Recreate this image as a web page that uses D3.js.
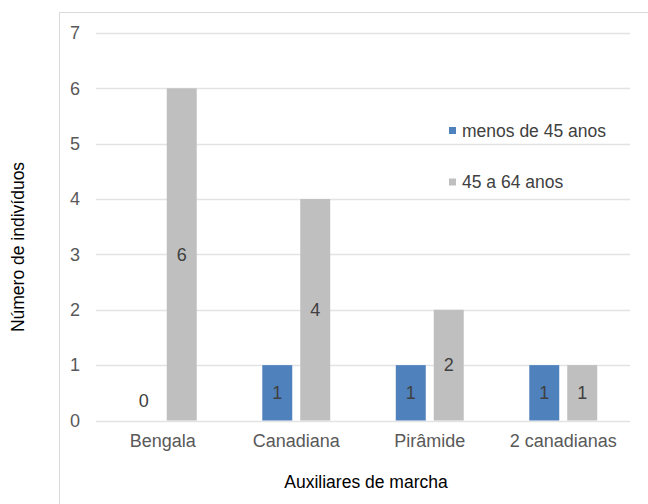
<!DOCTYPE html>
<html>
<head>
<meta charset="utf-8">
<script src="https://cdn.jsdelivr.net/npm/d3@7/dist/d3.min.js"></script>
<style>
  html, body { margin: 0; padding: 0; background: #fff; }
  svg { display: block; font-family: "Liberation Sans", Arial, sans-serif; }
</style>
</head>
<body>
<svg id="chart" width="648" height="504"></svg>
<script>
// Walking aids by age group
const categories = ["Bengala", "Canadiana", "Pirâmide", "2 canadianas"];
const seriesNames = ["menos de 45 anos", "45 a 64 anos"];
const under45 = [0, 1, 1, 1];
const age45to64 = [6, 4, 2, 1];
const yTicks = [0, 1, 2, 3, 4, 5, 6, 7];
const colors = ["#4f81bd", "#bfbfbf"];

const svg = d3.select("#chart");
const plot = { left: 96, right: 630, top: 33, bottom: 420.5 };

// Chart frame
svg.append("path")
  .attr("d", "M59.5,504 V12.5 H648")
  .attr("fill", "none")
  .attr("stroke", "#d9d9d9")
  .attr("stroke-width", 1);

const x0 = d3.scaleBand().domain(categories).range([plot.left, plot.right]).padding(0);
const groupW = x0.bandwidth() * 0.509;
const x1 = d3.scaleBand().domain(seriesNames).range([-groupW / 2, groupW / 2]).paddingInner(0.2105);
const y = d3.scaleLinear().domain([0, 7]).range([plot.bottom, plot.top]);

// Gridlines
svg.append("g")
  .selectAll("line")
  .data(yTicks)
  .join("line")
  .attr("x1", plot.left).attr("x2", plot.right)
  .attr("y1", d => Math.round(y(d)) + 0.5).attr("y2", d => Math.round(y(d)) + 0.5)
  .attr("stroke", "#e3e3e3").attr("stroke-width", 1.5);

// Y axis labels
const yAxis = d3.axisLeft(y).tickValues(yTicks).tickSize(0).tickPadding(0).tickFormat(d3.format("d"));
const yg = svg.append("g").attr("transform", `translate(${plot.left - 16},0)`).call(yAxis);
yg.select(".domain").remove();
yg.selectAll("text").attr("fill", "#595959").attr("font-size", "18px")
  .attr("font-family", "Liberation Sans, Arial, sans-serif");

// X axis labels
const xAxis = d3.axisBottom(x0).tickSize(0).tickPadding(0);
const xg = svg.append("g").attr("transform", `translate(0,${plot.bottom + 14})`).call(xAxis);
xg.select(".domain").remove();
xg.selectAll("text").attr("fill", "#595959").attr("font-size", "18px")
  .attr("font-family", "Liberation Sans, Arial, sans-serif");

// Bars
const data = categories.map((c, i) => ({
  category: c,
  values: [
    { series: seriesNames[0], value: under45[i], color: colors[0] },
    { series: seriesNames[1], value: age45to64[i], color: colors[1] }
  ]
}));

const groups = svg.append("g").selectAll("g")
  .data(data)
  .join("g")
  .attr("transform", d => `translate(${x0(d.category) + x0.bandwidth() / 2},0)`);

groups.selectAll("rect")
  .data(d => d.values)
  .join("rect")
  .attr("x", d => x1(d.series))
  .attr("width", x1.bandwidth())
  .attr("y", d => y(d.value))
  .attr("height", d => y(0) - y(d.value))
  .attr("fill", d => d.color);

// Value labels
groups.selectAll("text")
  .data(d => d.values)
  .join("text")
  .attr("x", d => x1(d.series) + x1.bandwidth() / 2)
  .attr("y", d => d.value > 0 ? y(d.value / 2) : y(0) - 20)
  .attr("dy", "0.35em")
  .attr("text-anchor", "middle")
  .attr("fill", "#404040")
  .attr("font-size", "18px")
  .text(d => d.value);

// Legend
const legend = svg.append("g").selectAll("g")
  .data(seriesNames)
  .join("g")
  .attr("transform", (d, i) => `translate(449,${127 + i * 51.5})`);
legend.append("rect").attr("width", 7).attr("height", 7).attr("fill", (d, i) => colors[i]);
legend.append("text")
  .attr("x", 13).attr("y", 3.5).attr("dy", "0.35em")
  .attr("fill", "#404040").attr("font-size", "17.5px")
  .text(d => d);

// Axis titles
svg.append("text")
  .attr("x", (plot.left + plot.right) / 2 + 3).attr("y", 488)
  .attr("text-anchor", "middle").attr("fill", "#000").attr("font-size", "17.5px")
  .text("Auxiliares de marcha");

svg.append("text")
  .attr("transform", "translate(24,247) rotate(-90)")
  .attr("text-anchor", "middle").attr("fill", "#000").attr("font-size", "17.5px")
  .text("Número de indivíduos");
</script>
</body>
</html>
